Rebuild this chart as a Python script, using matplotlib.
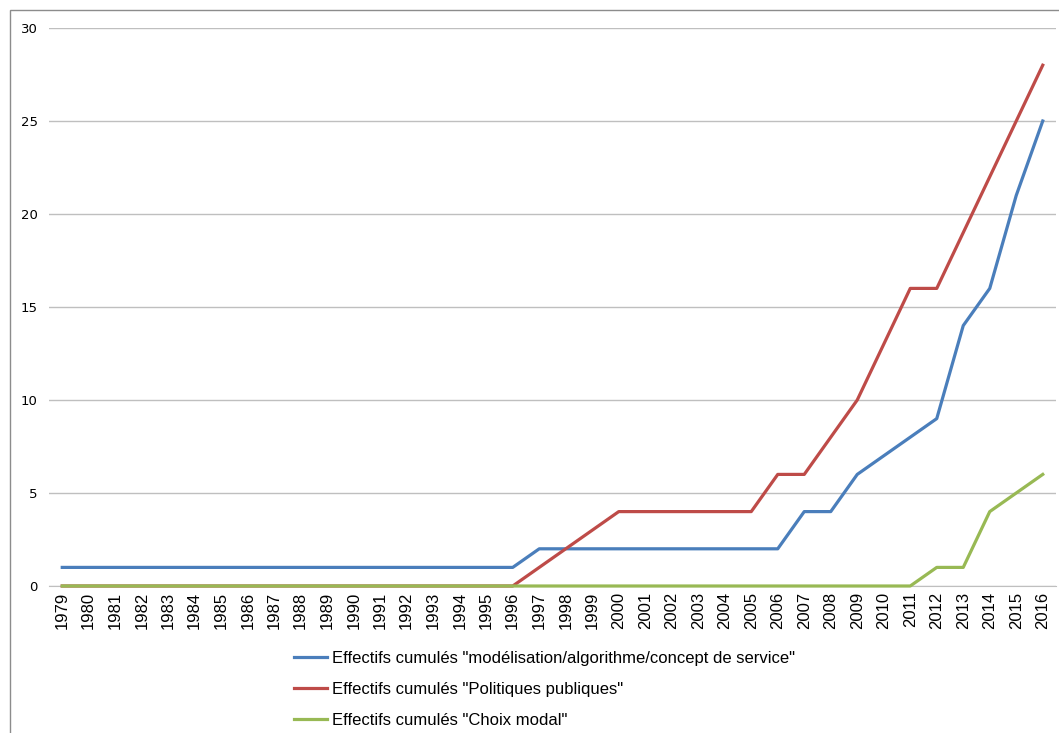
import matplotlib.pyplot as plt
from matplotlib.patches import Rectangle
from matplotlib.lines import Line2D

# Data
years = list(range(1979, 2017))

modelisation = [1] * 18 + [2, 2, 2, 2, 2, 2, 2, 2, 2, 2,
                           4, 4, 6, 7, 8, 9, 14, 16, 21, 25]
politiques = [0] * 18 + [1, 2, 3, 4, 4, 4, 4, 4, 4, 6,
                         6, 8, 10, 13, 16, 16, 19, 22, 25, 28]
choix_modal = [0] * 33 + [1, 1, 4, 5, 6]

labels = [
    'Effectifs cumulés "modélisation/algorithme/concept de service"',
    'Effectifs cumulés "Politiques publiques"',
    'Effectifs cumulés "Choix modal"',
]
colors = ["#4a7ebb", "#be4b48", "#98b954"]

W, H = 1059, 733
fig = plt.figure(figsize=(W / 100, H / 100), dpi=100)

# plot area in pixels: left 49, right 1056, top 28, bottom 586
ax = fig.add_axes([49 / W, 1 - 586 / H, (1056 - 49) / W, (586 - 28) / H])

x = list(range(len(years)))
for series, c in zip([modelisation, politiques, choix_modal], colors):
    ax.plot(x, series, color=c, linewidth=2.3, solid_joinstyle="round",
            zorder=3, clip_on=False)

ax.set_xlim(-0.5, len(years) - 0.5)
ax.set_ylim(0, 30)
ax.set_yticks(range(0, 31, 5))
ax.yaxis.grid(True, color="#bfbfbf", linewidth=1)
ax.set_axisbelow(True)

ax.set_xticks(x)
ax.set_xticklabels([str(y) for y in years], rotation=90, fontsize=12,
                   family="Liberation Sans")
for lab in ax.get_yticklabels():
    lab.set_fontsize(9.5)
    lab.set_family("DejaVu Sans")
ax.tick_params(axis="both", length=0, pad=8)
ax.tick_params(axis="x", pad=4)

for side in ["top", "right", "left"]:
    ax.spines[side].set_visible(False)
ax.spines["bottom"].set_color("#bfbfbf")
ax.spines["bottom"].set_zorder(1)

# Legend below
handles = [Line2D([0], [0], color=c, linewidth=2.3) for c in colors]
fig.legend(handles, labels, loc="upper left",
           bbox_to_anchor=(279 / W, 1 - 636 / H), frameon=False,
           prop={"family": "Liberation Sans", "size": 12},
           handlelength=2.0, handletextpad=0.25, labelspacing=0.95)

# outer chart border
fig.patches.append(Rectangle((10 / W, -0.01), 1.1, 1 - 10 / H + 0.01,
                             transform=fig.transFigure, fill=False,
                             edgecolor="#8c8c8c", linewidth=1))

fig.savefig("out.png", dpi=100)
